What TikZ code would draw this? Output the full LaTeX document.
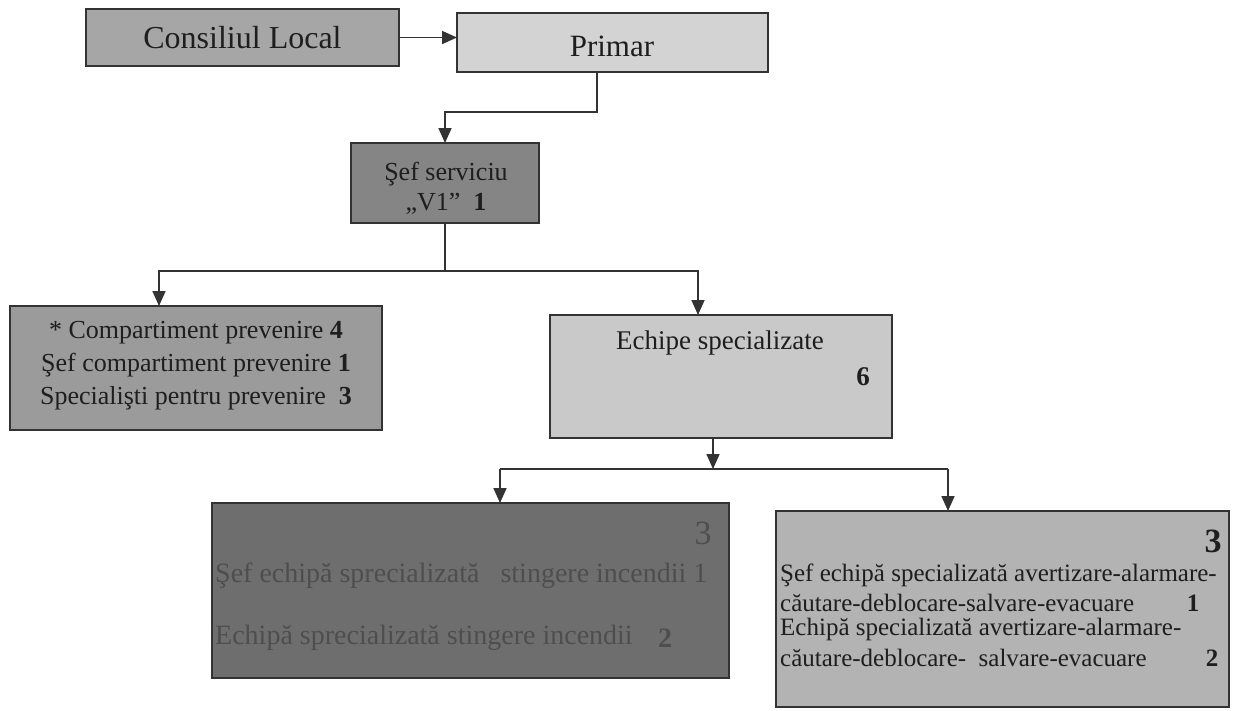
\documentclass[tikz,border=0pt]{standalone}
\usepackage{fontspec}
\setmainfont{Liberation Serif}
\usetikzlibrary{arrows.meta}
\definecolor{cCL}{HTML}{A6A6A6}
\definecolor{cPR}{HTML}{D3D3D3}
\definecolor{cSEF}{HTML}{858585}
\definecolor{cCOMP}{HTML}{9B9B9B}
\definecolor{cECH}{HTML}{C9C9C9}
\definecolor{cBL}{HTML}{6E6E6E}
\definecolor{cBLT}{HTML}{4E4E4E}
\definecolor{cBR}{HTML}{B3B3B3}
\definecolor{cLINE}{HTML}{333333}
\definecolor{cTXT}{HTML}{1E1E1E}
\newcommand\fsz[2]{\fontsize{#1}{#2}\selectfont}
\begin{document}
\begin{tikzpicture}[x=1pt,y=-1pt,
  box/.style={draw=cLINE, line width=2pt, inner sep=0pt, outer sep=0pt, text=cTXT},
  conn/.style={draw=cLINE, line width=1.7pt},
  arr/.style={conn, -{Triangle[length=15pt,width=13pt]}},
  txt/.style={inner sep=0pt, text=cTXT},
  dtxt/.style={inner sep=0pt, text=cBLT}]
\fill[white] (0,0) rectangle (1239,710);
\useasboundingbox (0,0) rectangle (1239,710);

% top row
\node[box, fill=cCL, minimum width=313pt, minimum height=57pt, font=\fsz{32}{38}] (cl) at (242.5,37.5) {Consiliul Local};
\node[box, fill=cPR, minimum width=311pt, minimum height=59pt] (pr) at (612.5,42.5) {};
\node[txt, font=\fsz{31}{37}] (prt) at (612,46) {Primar};
\draw[arr] (cl.east) -- (cl.east -| pr.west);

% sef serviciu
\node[box, fill=cSEF, minimum width=188pt, minimum height=80pt] (sef) at (445,183) {};
\node[txt, align=center, font=\fsz{26}{30}] (seft) at (446,188) {Şef serviciu\\„V1”\ \ \textbf{1}};
\coordinate (p1) at (597,112);
\draw[arr] (p1 |- pr.south) -- (p1) -| (sef.north);

% second level
\node[box, fill=cCOMP, minimum width=372pt, minimum height=124pt] (comp) at (196,368) {};
\node[txt, align=center, font=\fsz{26}{33}] (compt) at (196,366)
  {* Compartiment prevenire \textbf{4}\\Şef compartiment prevenire \textbf{1}\\Specialişti pentru prevenire\ \ \textbf{3}};
\node[box, fill=cECH, minimum width=342pt, minimum height=123pt] (ech) at (721,376.5) {};
\node[txt, font=\fsz{27}{32}] (echt) at (720,343) {Echipe specializate};
\node[txt, font=\fsz{27}{32}] (echn) at (863,377) {\textbf{6}};

\coordinate (b1) at (159,271);
\coordinate (b2) at (698,271);
\draw[arr] (sef.south) |- (b1) -- (b1 |- comp.north);
\draw[arr] (sef.south) |- (b2) -- (b2 |- ech.north);

% third level
\node[box, fill=cBL, minimum width=517pt, minimum height=175pt] (bl) at (470.5,590.5) {};
\node[dtxt, font=\fsz{34}{40}] (bl3) at (703,533) {3};
\node[dtxt, font=\fsz{28}{33}, anchor=west] (bl1) at (215,576) {Şef echipă sprecializată\ \ \ stingere incendii 1};
\node[dtxt, font=\fsz{28}{33}, anchor=west] (bl2) at (215,638) {Echipă sprecializată stingere incendii};
\node[dtxt, font=\fsz{28}{33}] (bl2n) at (665,638) {\textbf{2}};

\node[box, fill=cBR, minimum width=453pt, minimum height=196pt] (br) at (1002.5,609) {};
\node[txt, font=\fsz{34}{40}] (br3) at (1213,541) {\textbf{3}};
\node[txt, font=\fsz{25}{29}, anchor=west] (br1) at (780,575) {Şef echipă specializată avertizare-alarmare-};
\node[txt, font=\fsz{25}{29}, anchor=west] (br2) at (780,603) {căutare-deblocare-salvare-evacuare};
\node[txt, font=\fsz{25}{29}] (br2n) at (1193,603) {\textbf{1}};
\node[txt, font=\fsz{25}{29}, anchor=west] (br4) at (780,629) {Echipă specializată avertizare-alarmare-};
\node[txt, font=\fsz{25}{29}, anchor=west] (br5) at (780,658) {căutare-deblocare-\ \ salvare-evacuare};
\node[txt, font=\fsz{25}{29}] (br5n) at (1212,658) {\textbf{2}};

\coordinate (c0) at (713,469);
\coordinate (c1) at (500,469);
\coordinate (c2) at (948,469);
\draw[arr] (c0 |- ech.south) -- (c0);
\draw[conn] (c1) -- (c2);
\draw[arr] (c1) -- (c1 |- bl.north);
\draw[arr] (c2) -- (c2 |- br.north);
\end{tikzpicture}
\end{document}
